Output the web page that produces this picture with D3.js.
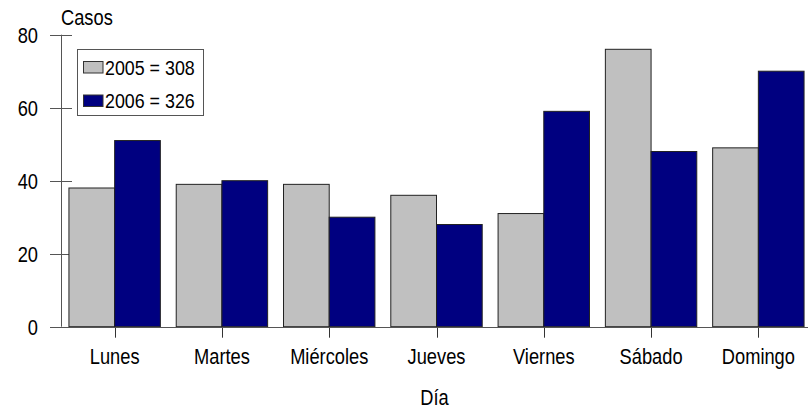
<!DOCTYPE html>
<html>
<head>
<meta charset="utf-8">
<script src="https://cdn.jsdelivr.net/npm/d3@7"></script>
<style>
  html, body { margin: 0; padding: 0; background: #fff; }
  svg { display: block; }
  text { font-family: "Liberation Sans", Arial, sans-serif; fill: #000; }
</style>
</head>
<body>
<svg id="chart" width="808" height="412"></svg>
<script>
const categories = ["Lunes", "Martes", "Miércoles", "Jueves", "Viernes", "Sábado", "Domingo"];
const seriesNames = ["2005 = 308", "2006 = 326"];
const values2005 = [38, 39, 39, 36, 31, 76, 49];
const values2006 = [51, 40, 30, 28, 59, 48, 70];
const yTicks = [0, 20, 40, 60, 80];
const colors = ["#C0C0C0", "#000080"];
const yTitle = "Casos";
const xTitle = "Día";

const svg = d3.select("#chart");
const plotLeft = 61, plotRight = 812, plotTop = 34.7, plotBottom = 326.7;
const SX = 0.85;

function label(x, yy, txt, size, anchor) {
  return svg.append("text")
    .attr("transform", `translate(${x},${yy}) scale(${SX},1)`)
    .attr("text-anchor", anchor || "start")
    .attr("font-size", size)
    .text(txt);
}

const x0 = d3.scaleBand().domain(categories).range([plotLeft, plotRight]).paddingInner(0.148).paddingOuter(0.074);
const x1 = d3.scaleBand().domain([0, 1]).range([0, x0.bandwidth()]);
const y = d3.scaleLinear().domain([0, 80]).range([plotBottom, plotTop]);

const data = categories.map((c, i) => ({ cat: c, vals: [values2005[i], values2006[i]] }));

// y axis line
svg.append("line").attr("x1", plotLeft + 0.5).attr("x2", plotLeft + 0.5).attr("y1", y(80)).attr("y2", y(0))
  .attr("stroke", "#555").attr("stroke-width", 1);

// y ticks
yTicks.forEach(t => {
  svg.append("line").attr("x1", plotLeft - 11).attr("x2", plotLeft + 11)
    .attr("y1", Math.round(y(t)) + 0.5).attr("y2", Math.round(y(t)) + 0.5)
    .attr("stroke", "#555").attr("stroke-width", 1);
  label(38, y(t) + 8, t, 21.5, "end");
});

// x category ticks
categories.forEach(c => {
  const cx = Math.round(x0(c) + x0.bandwidth() / 2) + 0.5;
  svg.append("line").attr("x1", cx).attr("x2", cx).attr("y1", plotBottom).attr("y2", plotBottom + 11)
    .attr("stroke", "#333").attr("stroke-width", 1);
});

// bars
const g = svg.selectAll("g.grp").data(data).join("g").attr("class", "grp")
  .attr("transform", d => `translate(${x0(d.cat)},0)`);
g.selectAll("rect").data(d => d.vals.map((v, k) => ({ v, k }))).join("rect")
  .attr("x", d => x1(d.k))
  .attr("y", d => y(d.v))
  .attr("width", x1.bandwidth())
  .attr("height", d => y(0) - y(d.v))
  .attr("fill", d => colors[d.k])
  .attr("stroke", "#222")
  .attr("stroke-width", 1);

// baseline
svg.append("line").attr("x1", 50).attr("x2", 808).attr("y1", Math.round(y(0)) + 0.5).attr("y2", Math.round(y(0)) + 0.5)
  .attr("stroke", "#555").attr("stroke-width", 1);

// category labels
categories.forEach(c => {
  label(x0(c) + x0.bandwidth() / 2, 364, c, 21.5, "middle");
});

// titles
label(61, 25, yTitle, 21.5, "start");
label((plotLeft + plotRight) / 2 - 2, 405, xTitle, 21.5, "middle");

// legend
const lgBox = svg.append("rect").attr("x", 77.5).attr("y", 49.5).attr("width", 126).attr("height", 66)
  .attr("fill", "#fff").attr("stroke", "#555").attr("stroke-width", 1);
seriesNames.forEach((s, k) => {
  const ly = 61.5 + k * 33.5;
  svg.append("rect").attr("x", 83.5).attr("y", ly).attr("width", 19.5).attr("height", 11.5)
    .attr("fill", colors[k]).attr("stroke", "#333").attr("stroke-width", 1);
  label(105, ly + 13, s, 21, "start");
});
</script>
</body>
</html>
